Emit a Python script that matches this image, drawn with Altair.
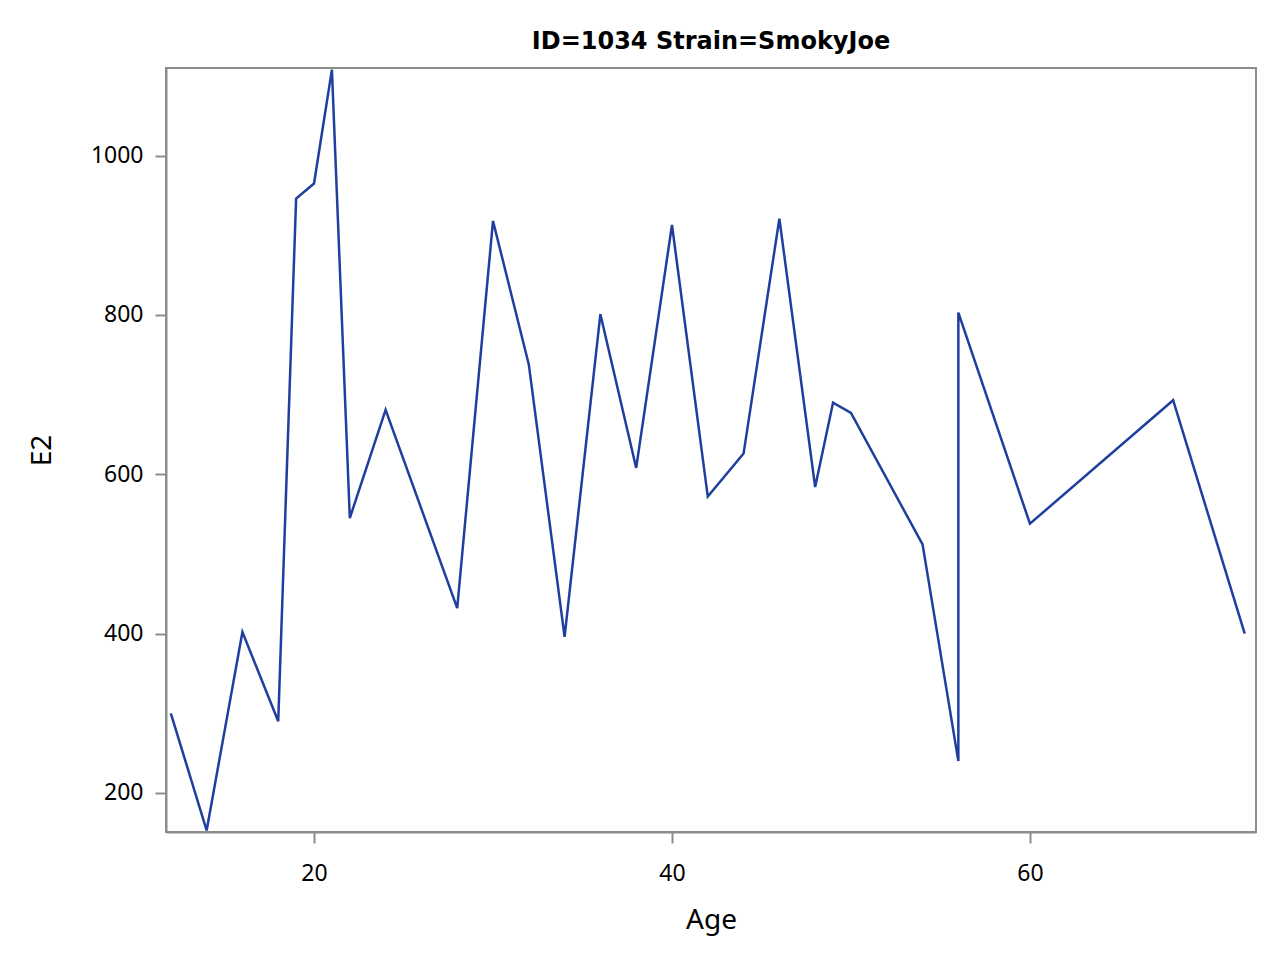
import altair as alt
import pandas as pd

ages = [12, 14, 16, 18, 19, 20, 21, 22, 24, 28, 30, 32, 34, 36, 38, 40, 42, 44, 46, 48, 49, 50, 54, 56, 56, 60, 68, 72]
e2 = [300, 153, 402, 290, 946, 965, 1108, 545, 681, 432, 918, 738, 396, 801, 608, 913, 572, 626, 921, 584, 690, 677, 512, 240, 803, 538, 693, 400]
x_ticks = [20, 40, 60]
y_ticks = [200, 400, 600, 800, 1000]
title_text = "ID=1034 Strain=SmokyJoe"

df = pd.DataFrame({"Age": ages, "E2": e2, "idx": list(range(len(ages)))})

axis_common = dict(
    labelFont="Noto Sans", labelFontSize=23, labelColor="#000000",
    titleFont="Noto Sans", titleFontSize=28, titleFontWeight="normal", titleColor="#000000",
    domainColor="#8c8c8c", domainWidth=2, tickColor="#8c8c8c", tickWidth=2, tickSize=11,
    grid=False, format="d",
)

chart = alt.Chart(df).mark_line(color="#1f3f9f", strokeWidth=2.5, clip=True).encode(
    x=alt.X("Age:Q", scale=alt.Scale(domain=[11.73, 72.63], nice=False, zero=False),
            axis=alt.Axis(values=x_ticks, labelPadding=19, titlePadding=21, **axis_common)),
    y=alt.Y("E2:Q", scale=alt.Scale(domain=[151, 1110], nice=False, zero=False),
            axis=alt.Axis(values=y_ticks, labelPadding=12, titlePadding=34, **axis_common)),
    order="idx:Q",
).properties(
    width=1090, height=764,
    title=alt.TitleParams(title_text, font="DejaVu Sans", fontSize=24, fontWeight="bold",
                          color="#000000", offset=14),
    autosize=alt.AutoSizeParams(type="none"),
    padding={"left": 158, "top": 60, "right": 14, "bottom": 120},
).configure_view(stroke="#8c8c8c", strokeWidth=2)

chart.save("out.html", embed_options={"renderer": "svg", "actions": False})
